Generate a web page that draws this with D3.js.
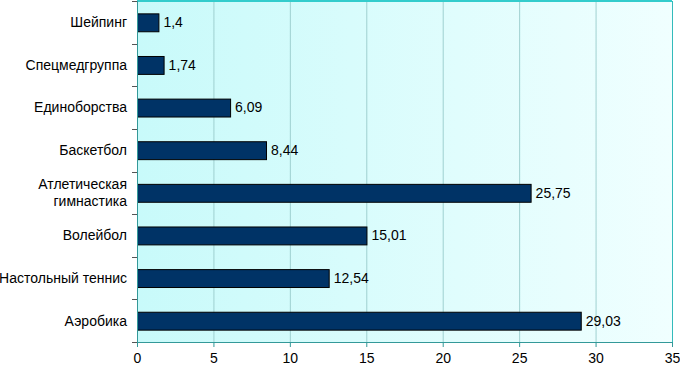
<!DOCTYPE html>
<html>
<head>
<meta charset="utf-8">
<script src="https://cdn.jsdelivr.net/npm/d3@7"></script>
<style>
  body { margin: 0; background: #fff; }
  svg { display: block; font-family: "Liberation Sans", Arial, sans-serif; }
</style>
</head>
<body>
<div id="chart"></div>
<script>
var categories = ["Шейпинг", "Спецмедгруппа", "Единоборства", "Баскетбол",
    "Атлетическая\nгимнастика", "Волейбол", "Настольный теннис", "Аэробика"];
var values = [1.4, 1.74, 6.09, 8.44, 25.75, 15.01, 12.54, 29.03];
var labels = ["1,4", "1,74", "6,09", "8,44", "25,75", "15,01", "12,54", "29,03"];
var xTicks = [0, 5, 10, 15, 20, 25, 30, 35];

var margin = {top: 1, right: 8, bottom: 26, left: 137},
    width = 680 - margin.left - margin.right,
    height = 368 - margin.top - margin.bottom;

var svg = d3.select("#chart")
    .append("svg")
        .attr("width", 680)
        .attr("height", 368);

var defs = svg.append("defs");
var grad = defs.append("linearGradient")
    .attr("id", "bg")
    .attr("x1", "0%").attr("x2", "100%")
    .attr("y1", "0%").attr("y2", "0%");
grad.append("stop").attr("offset", "0%").attr("stop-color", "#c8fafa");
grad.append("stop").attr("offset", "100%").attr("stop-color", "#f0ffff");

var g = svg.append("g")
    .attr("transform", "translate(" + margin.left + "," + margin.top + ")");

var x = d3.scaleLinear()
    .domain([0, 35])
    .range([0, width]);

var y = d3.scaleBand()
    .domain(categories)
    .range([0, height])
    .paddingInner(0.58)
    .paddingOuter(0.29);

// background
g.append("rect")
    .attr("width", width)
    .attr("height", height)
    .attr("fill", "url(#bg)");

// grid
g.selectAll(".grid")
    .data(xTicks.slice(1, -1))
    .enter()
    .append("line")
    .attr("x1", function(d) { return x(d) + 0.5; })
    .attr("x2", function(d) { return x(d) + 0.5; })
    .attr("y1", 0)
    .attr("y2", height)
    .attr("stroke", "#9fd0d0")
    .attr("stroke-width", 1);

// top and right border
g.append("line")
    .attr("x1", 0).attr("x2", width)
    .attr("y1", 0).attr("y2", 0)
    .attr("stroke", "#33cccc")
    .attr("stroke-width", 2);
g.append("line")
    .attr("x1", width + 0.5).attr("x2", width + 0.5)
    .attr("y1", 0).attr("y2", height)
    .attr("stroke", "#33bbbb")
    .attr("stroke-width", 1);

// bars
g.selectAll(".bar")
    .data(values)
    .enter()
    .append("rect")
    .attr("x", x(0) + 0.5)
    .attr("y", function(d, i) { return y(categories[i]) + 0.5; })
    .attr("width", function(d) { return x(d) - x(0); })
    .attr("height", y.bandwidth())
    .attr("fill", "#003366")
    .attr("stroke", "#000")
    .attr("stroke-width", 1);

// value labels
g.selectAll(".val")
    .data(values)
    .enter()
    .append("text")
    .attr("x", function(d) { return x(d) + 5; })
    .attr("y", function(d, i) { return y(categories[i]) + y.bandwidth() / 2; })
    .attr("dy", "0.35em")
    .style("font-size", "14px")
    .attr("fill", "#000")
    .text(function(d, i) { return labels[i]; });

// x axis
var xAxis = g.append("g")
    .attr("transform", "translate(0," + height + ")")
    .call(d3.axisBottom(x).tickValues(xTicks).tickSize(5).tickFormat(d3.format("d")));
xAxis.select(".domain").attr("stroke", "#339999");
xAxis.selectAll(".tick line").attr("stroke", "#339999");
xAxis.selectAll(".tick text")
    .attr("y", 11)
    .style("font-size", "14px")
    .style("font-family", "Liberation Sans, Arial, sans-serif")
    .attr("fill", "#000");

// y axis: ticks at band boundaries
var step = y.step();
var boundaries = d3.range(categories.length + 1).map(function(i) {
    return y(categories[0]) - y.paddingOuter() * step + i * step;
});
g.append("line")
    .attr("x1", 0.5).attr("x2", 0.5)
    .attr("y1", 0).attr("y2", height)
    .attr("stroke", "#339999");
g.selectAll(".ytick")
    .data(boundaries)
    .enter()
    .append("line")
    .attr("x1", -5).attr("x2", 0)
    .attr("y1", function(d) { return Math.round(d) + 0.5; })
    .attr("y2", function(d) { return Math.round(d) + 0.5; })
    .attr("stroke", "#555");

// category labels
g.selectAll(".cat")
    .data(categories)
    .enter()
    .append("text")
    .attr("text-anchor", "end")
    .attr("x", -10)
    .attr("y", function(d) { return y(d) + y.bandwidth() / 2; })
    .style("font-size", "14px")
    .attr("fill", "#000")
    .each(function(d) {
        var lines = d.split("\n");
        var t = d3.select(this);
        lines.forEach(function(line, i) {
            t.append("tspan")
                .attr("x", -10)
                .attr("dy", i === 0 ? (0.35 - (lines.length - 1) * 0.6) + "em" : "1.2em")
                .text(line);
        });
    });
</script>
</body>
</html>
